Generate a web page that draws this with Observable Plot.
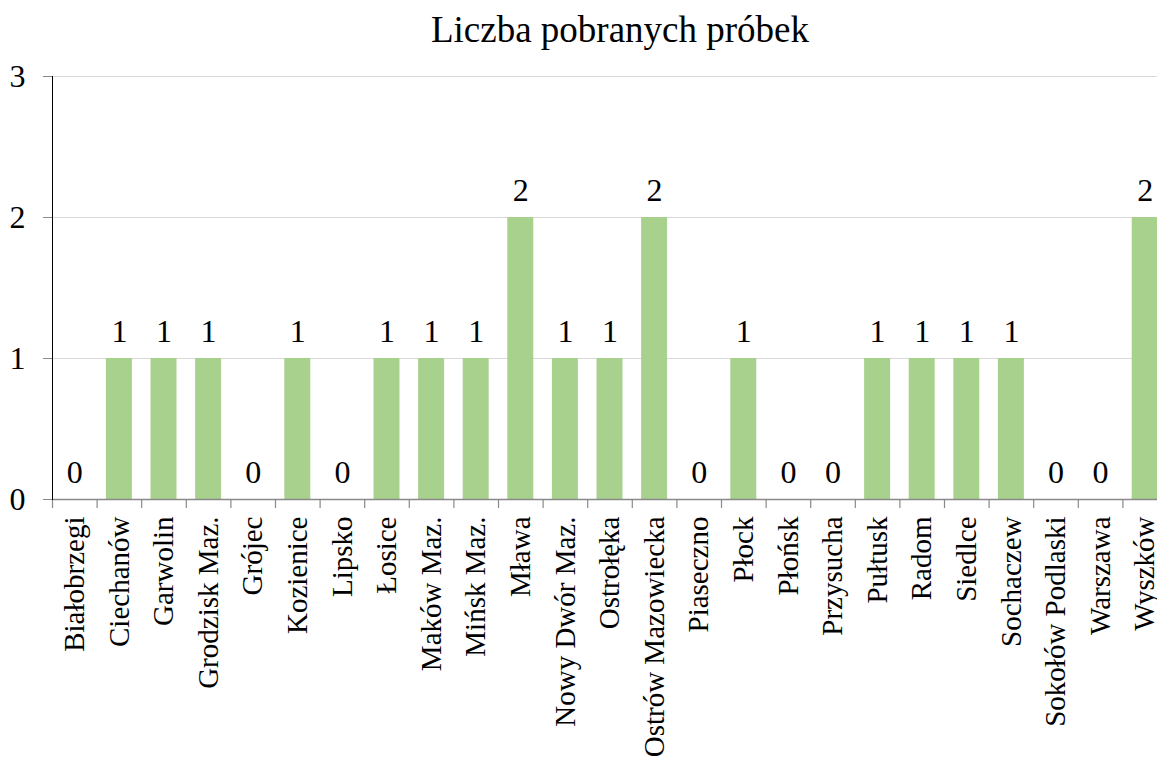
<!DOCTYPE html>
<html>
<head>
<meta charset="utf-8">
<script src="https://cdn.jsdelivr.net/npm/d3@7"></script>
<script src="https://cdn.jsdelivr.net/npm/@observablehq/plot@0.6"></script>
<style>
  html, body { margin: 0; padding: 0; background: #fff; overflow: hidden; }
  #wrap { position: relative; width: 1157px; height: 758px; }
  #title {
    position: absolute; left: 620px; top: 11px; transform: translateX(-50%);
    font-family: "Liberation Serif", "Times New Roman", serif; font-size: 37px;
    line-height: 37px; white-space: nowrap; color: #000;
  }
  #chart svg { display: block; }
  #chart svg, #chart svg text { font-family: "Liberation Serif", "Times New Roman", serif !important; }
</style>
</head>
<body>
<div id="wrap">
  <div id="title">Liczba pobranych próbek</div>
  <div id="chart"></div>
</div>
<script>
const categories = ["Białobrzegi", "Ciechanów", "Garwolin", "Grodzisk Maz.", "Grójec", "Kozienice", "Lipsko", "Łosice", "Maków Maz.", "Mińsk Maz.", "Mława", "Nowy Dwór Maz.", "Ostrołęka", "Ostrów Mazowiecka", "Piaseczno", "Płock", "Płońsk", "Przysucha", "Pułtusk", "Radom", "Siedlce", "Sochaczew", "Sokołów Podlaski", "Warszawa", "Wyszków"];
const values = [0, 1, 1, 1, 0, 1, 0, 1, 1, 1, 2, 1, 1, 2, 0, 1, 0, 0, 1, 1, 1, 1, 0, 0, 2];
const yTicks = [0, 1, 2, 3];

const data = categories.map((name, i) => ({name, value: values[i]}));

const W = 1157, H = 758;
const mL = 52, mR = -10;
const step = (W - mL - mR) / categories.length;
const serif = "'Liberation Serif', 'Times New Roman', serif";

const chart = Plot.plot({
  width: W,
  height: H,
  marginLeft: mL,
  marginRight: mR,
  marginTop: 76,
  marginBottom: 259,
  style: {fontFamily: serif, color: "#000", background: "#fff"},
  x: {domain: categories, paddingInner: 0.417, paddingOuter: 0.2085, round: false, label: null},
  y: {domain: [0, 3], label: null},
  marks: [
    Plot.ruleY(yTicks.filter(d => d > 0), {stroke: "#d9d9d9", strokeWidth: 1}),
    Plot.barY(data, {x: "name", y: "value", fill: "#a9d18e"}),
    Plot.text(data, {x: "name", y: "value", text: d => String(d.value), lineAnchor: "bottom", dy: -17, fontSize: 32, fontFamily: serif, fill: "#000"}),
    Plot.ruleY([0], {stroke: "#898989", strokeWidth: 1.5}),
    Plot.axisX({tickSize: 9, tickFormat: () => "", dx: -step / 2, stroke: "#898989", strokeWidth: 1.2, label: null}),
    Plot.axisX({tickSize: 0, tickPadding: 17, tickRotate: -90, fontSize: 29, fontFamily: serif, fill: "#000", label: null}),
    Plot.axisY({ticks: yTicks, tickSize: 9, tickPadding: 18, tickFormat: d => String(d), fontSize: 32, fontFamily: serif, stroke: "#898989", fill: "#000", label: null}),
    Plot.frame({anchor: "left", stroke: "#000", strokeWidth: 1})
  ]
});
document.getElementById("chart").appendChild(chart);
</script>
</body>
</html>
